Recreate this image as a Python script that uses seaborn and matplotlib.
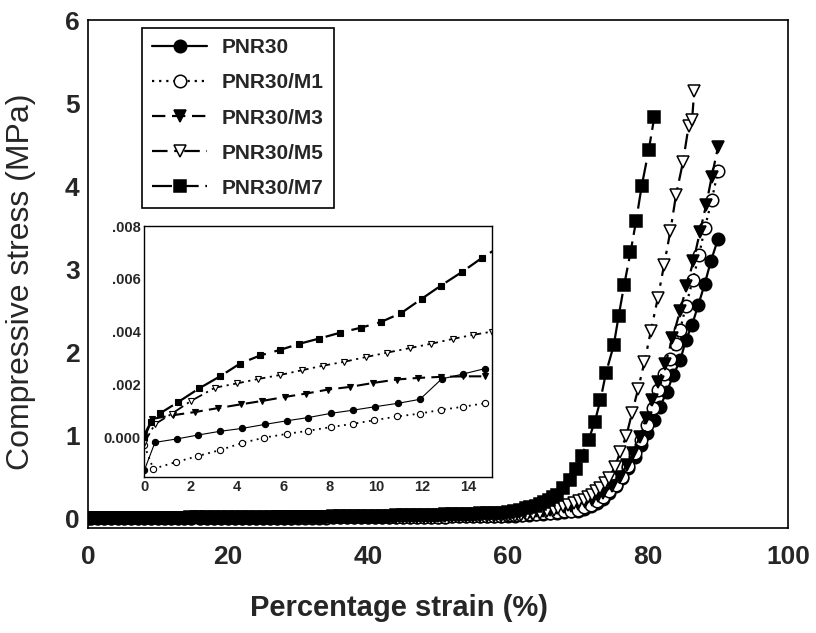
import numpy as np
import pandas as pd
import matplotlib
matplotlib.use("Agg")
import matplotlib.pyplot as plt
import seaborn as sns
from matplotlib.ticker import MultipleLocator

sns.set_style("white")
plt.rcParams['font.family'] = ['Liberation Sans', 'DejaVu Sans']

names = ["PNR30", "PNR30/M1", "PNR30/M3", "PNR30/M5", "PNR30/M7"]

# ---- low strain data (inset, 0-15 %) : strain (%), stress (MPa)
pnr30_in_x = [0, 0.46, 1.4, 2.33, 3.27, 4.23, 5.2, 6.17, 7.08, 8.06, 9.02, 9.96, 10.96, 11.9, 12.84, 13.77, 14.7]
pnr30_in_y = [-0.00125, -0.00019, -0.00006, 0.00009, 0.00023, 0.00034, 0.00049, 0.00063, 0.00075, 0.00091,
              0.00103, 0.00116, 0.00129, 0.00144, 0.00221, 0.0024, 0.0026]
m1_in_x = [0, 0.39, 1.35, 2.3, 3.27, 4.23, 5.18, 6.14, 7.08, 8.06, 8.99, 9.93, 10.92, 11.9, 12.8, 13.77, 14.7]
m1_in_y = [-0.0003, -0.00119, -0.00094, -0.00071, -0.00048, -0.00021, -0.00001, 0.00013, 0.00025, 0.00039,
           0.00051, 0.00065, 0.00079, 0.0009, 0.00104, 0.00116, 0.00129]
m3_in_x = [0, 0.35, 1.25, 2.2, 3.2, 4.17, 5.1, 6.07, 7.0, 7.94, 8.88, 9.88, 10.9, 11.83, 12.8, 13.77, 14.7]
m3_in_y = [0.0001, 0.0007, 0.00084, 0.00096, 0.00111, 0.00125, 0.00138, 0.00153, 0.00166, 0.00181,
           0.00191, 0.00206, 0.00219, 0.00225, 0.00229, 0.00231, 0.00231]
m5_in_x = [0, 0.46, 1.18, 2.0, 3.05, 3.99, 4.92, 5.86, 6.8, 7.7, 8.63, 9.57, 10.5, 11.47, 12.37, 13.34, 14.2, 15.0]
m5_in_y = [-0.0002, 0.0005, 0.00089, 0.00137, 0.00188, 0.00204, 0.00221, 0.00236, 0.00254, 0.00271,
           0.00286, 0.00304, 0.00321, 0.00338, 0.00354, 0.00373, 0.00388, 0.0040]
m7_in_x = [0, 0.3, 0.68, 1.47, 2.36, 3.27, 4.13, 5.0, 5.86, 6.69, 7.55, 8.45, 9.35, 10.2, 11.1, 11.97,
           12.8, 13.7, 14.56, 15.4]
m7_in_y = [0.0000, 0.0006, 0.00091, 0.00134, 0.00185, 0.00231, 0.00279, 0.0031, 0.00331, 0.00354, 0.00374,
           0.00396, 0.00415, 0.00436, 0.00471, 0.00524, 0.00574, 0.00625, 0.00678, 0.00725]

# ---- plateau region (16-60 %)
strain_mid = [16, 17, 18, 19, 20, 21, 22, 23, 24, 25, 26, 27, 28, 29, 30, 31, 32, 33, 34, 35, 36, 37, 38,
              39, 40, 41, 42, 43, 44, 45, 46, 47, 48, 49, 50, 51, 52, 53, 54, 55, 56, 57, 58, 59, 60]
pnr30_mid = [.0028, .003, .0032, .0035, .0037, .004, .0042, .0045, .0047, .005, .0053, .0056, .0059, .0062,
             .0065, .0068, .0072, .0075, .0079, .0083, .0087, .0091, .0095, .01, .0105, .011, .0115, .012,
             .0126, .0132, .0138, .0145, .0152, .016, .0168, .0177, .0186, .0196, .0206, .0217, .0229,
             .0242, .0256, .027, .0285]
m1_mid = [.0014, .0016, .0018, .002, .0022, .0024, .0026, .0028, .003, .0033, .0036, .0039, .0042, .0045,
          .0048, .0052, .0056, .006, .0064, .0068, .0073, .0078, .0083, .0088, .0094, .01, .0106, .0113,
          .012, .0128, .0136, .0145, .0154, .0164, .0174, .0185, .0196, .0208, .022, .0233, .0246, .026,
          .0275, .029, .032]
m3_mid = [.0024, .0026, .0028, .003, .0033, .0036, .0039, .0042, .0045, .0049, .0053, .0057, .0061, .0065,
          .007, .0075, .008, .0085, .009, .0096, .0102, .0108, .0115, .0122, .013, .0138, .0146, .0155,
          .0164, .0174, .0184, .0195, .0206, .0218, .023, .0243, .0257, .0271, .0286, .0302, .0319, .0337,
          .0356, .0376, .04]
m5_mid = [.0041, .0043, .0045, .0047, .0049, .0051, .0053, .0055, .0057, .006, .0063, .0066, .0069, .0072,
          .0075, .0078, .0082, .0086, .009, .0094, .0098, .0103, .0108, .0113, .0118, .0124, .013, .0136,
          .0143, .015, .0157, .0165, .0173, .0181, .019, .0199, .0208, .0218, .0228, .0238, .0248, .0258,
          .0268, .0278, .0288]
m7_mid = [.0073, .0077, .0081, .0085, .009, .0095, .01, .0105, .011, .0116, .0122, .0128, .0135, .0142,
          .015, .0158, .0166, .0175, .0184, .0194, .0204, .0215, .0226, .0238, .025, .0263, .0277, .0291,
          .0306, .0322, .0339, .0357, .0376, .0396, .0417, .0439, .0462, .0486, .0511, .0537, .0564, .0592,
          .0621, .0651, .068]

# ---- densification region
pnr30_hi_x = [61, 62, 63, 64, 65, 66, 67, 68, 69, 70.0, 70.9, 71.8, 72.7, 73.6, 74.5, 75.4, 76.3, 77.2, 78.1,
              79.0, 79.9, 80.8, 81.7, 82.7, 83.6, 84.6, 85.4, 86.3, 87.2, 88.1, 89.0, 90.0]
pnr30_hi_y = [0.03, 0.035, 0.04, 0.045, 0.05, 0.055, 0.062, 0.07, 0.08, 0.09, 0.11, 0.14, 0.18, 0.23, 0.3,
              0.38, 0.48, 0.6, 0.74, 0.88, 1.02, 1.18, 1.34, 1.52, 1.72, 1.9, 2.14, 2.33, 2.57, 2.82, 3.1, 3.36]
m1_hi_x = [61, 62, 63, 64, 65, 66, 67, 68, 69, 70.0, 70.9, 71.8, 72.7, 73.6, 74.5, 75.4, 76.3, 77.2, 78.1,
           79.0, 79.8, 80.7, 81.5, 82.3, 83.2, 84.0, 84.6, 85.4, 86.4, 87.3, 88.1, 89.1, 90.0]
m1_hi_y = [0.035, 0.04, 0.045, 0.05, 0.055, 0.06, 0.07, 0.08, 0.09, 0.10, 0.13, 0.16, 0.2, 0.25, 0.32, 0.4,
           0.5, 0.63, 0.78, 0.94, 1.12, 1.32, 1.54, 1.74, 1.92, 2.1, 2.27, 2.55, 2.87, 3.17, 3.49, 3.83, 4.18]
m3_hi_x = [61, 62, 63, 64, 65, 66, 67, 68, 69, 70, 71, 72, 72.8, 73.6, 74.8, 76.0, 77.0, 77.9, 78.8, 79.7,
           80.6, 81.5, 82.5, 83.5, 84.6, 85.5, 86.5, 87.4, 88.3, 89.1, 90.0]
m3_hi_y = [0.05, 0.06, 0.07, 0.08, 0.09, 0.10, 0.115, 0.13, 0.15, 0.17, 0.19, 0.22, 0.26, 0.30, 0.38, 0.5,
           0.64, 0.78, 0.98, 1.2, 1.42, 1.64, 1.86, 2.17, 2.5, 2.79, 3.1, 3.44, 3.77, 4.11, 4.47]
m5_hi_x = [61, 61.9, 62.7, 63.6, 64.6, 65.5, 66.5, 67.2, 67.9, 68.6, 69.4, 70.1, 70.8, 71.4, 72.0, 72.6,
           73.2, 73.8, 74.4, 75.3, 76.0, 76.9, 77.7, 78.6, 79.5, 80.4, 81.4, 82.3, 83.2, 84.0, 85.0, 85.8,
           86.3, 86.6]
m5_hi_y = [0.03, 0.033, 0.036, 0.05, 0.065, 0.08, 0.1, 0.12, 0.14, 0.16, 0.18, 0.2, 0.22, 0.25, 0.28, 0.32,
           0.36, 0.42, 0.48, 0.62, 0.79, 0.99, 1.26, 1.56, 1.88, 2.25, 2.65, 3.05, 3.46, 3.89, 4.29, 4.72,
           4.80, 5.14]
m7_hi_x = [60.8, 61.7, 62.5, 63.2, 64.0, 64.6, 65.2, 65.8, 66.4, 67.0, 67.9, 68.9, 69.7, 70.5, 71.5, 72.4,
           73.2, 74.0, 75.1, 75.8, 76.6, 77.5, 78.3, 79.1, 80.1, 80.9]
m7_hi_y = [0.085, 0.1, 0.115, 0.13, 0.15, 0.17, 0.195, 0.22, 0.25, 0.28, 0.36, 0.46, 0.59, 0.75, 0.94, 1.16,
           1.42, 1.75, 2.08, 2.43, 2.81, 3.2, 3.58, 4.0, 4.43, 4.83]

inset = {
    "PNR30": (pnr30_in_x, pnr30_in_y),
    "PNR30/M1": (m1_in_x, m1_in_y),
    "PNR30/M3": (m3_in_x, m3_in_y),
    "PNR30/M5": (m5_in_x, m5_in_y),
    "PNR30/M7": (m7_in_x, m7_in_y),
}
mid = {"PNR30": pnr30_mid, "PNR30/M1": m1_mid, "PNR30/M3": m3_mid, "PNR30/M5": m5_mid, "PNR30/M7": m7_mid}
high = {
    "PNR30": (pnr30_hi_x, pnr30_hi_y),
    "PNR30/M1": (m1_hi_x, m1_hi_y),
    "PNR30/M3": (m3_hi_x, m3_hi_y),
    "PNR30/M5": (m5_hi_x, m5_hi_y),
    "PNR30/M7": (m7_hi_x, m7_hi_y),
}

styles = {
    "PNR30":    dict(marker="o", mfc="black", ls="-", ils="-", ilw=0.8),
    "PNR30/M1": dict(marker="o", mfc="white", ls=(0, (1, 2.2)), ils=(0, (1, 2.5)), ilw=1.3),
    "PNR30/M3": dict(marker="v", mfc="black", ls=(0, (6, 3)), ils=(0, (6, 3)), ilw=1.5),
    "PNR30/M5": dict(marker="v", mfc="white", ls=(0, (7, 3, 1.5, 3)), ils=(0, (6, 2.5, 1.2, 2.5)), ilw=1.3),
    "PNR30/M7": dict(marker="s", mfc="black", ls=(0, (9, 3)), ils=(0, (8, 4)), ilw=1.6),
}

W, H = 816, 633
fig = plt.figure(figsize=(W / 100, H / 100), dpi=100)
ax = fig.add_axes([88 / W, 1 - 528 / H, 700 / W, 508 / H])

for n in names:
    xs = list(inset[n][0]) + strain_mid + list(high[n][0])
    ys = list(inset[n][1]) + mid[n] + list(high[n][1])
    st = styles[n]
    df = pd.DataFrame({"strain": xs, "stress": ys})
    sns.lineplot(data=df, x="strain", y="stress", ax=ax, sort=False, estimator=None, errorbar=None,
                 color="black", marker=st["marker"], markersize=9, markerfacecolor=st["mfc"],
                 markeredgecolor="black", markeredgewidth=1.1, linestyle=st["ls"], linewidth=1.6,
                 legend=False)

ax.set_xlim(0, 100)
ax.set_ylim(-0.12, 6)
ax.xaxis.set_major_locator(MultipleLocator(20))
ax.xaxis.set_minor_locator(MultipleLocator(10))
ax.yaxis.set_major_locator(MultipleLocator(1))
ax.yaxis.set_minor_locator(MultipleLocator(0.5))
ax.tick_params(which="both", direction="in", top=False, right=False, color="black")
ax.tick_params(which="major", length=7, width=1.1)
ax.tick_params(which="minor", length=4, width=1.0)
ax.tick_params(axis="x", pad=12)
ax.tick_params(axis="y", pad=6)
for sp in ax.spines.values():
    sp.set_color("black")
    sp.set_linewidth(1.2)
for lab in ax.get_xticklabels():
    lab.set_fontweight("bold")
    lab.set_fontsize(19)
for lab in ax.get_yticklabels():
    lab.set_fontweight("bold")
    lab.set_fontsize(19)
ax.set_xlabel("Percentage strain (%)", fontsize=21, fontweight="bold")
ax.xaxis.set_label_coords((399 - 88) / 700, (528 - 594) / 508)
ax.set_ylabel("Compressive stress (MPa)", fontsize=23)
ax.yaxis.set_label_coords((36 - 88) / 700, (528 - 282) / 508)

handles = ax.get_lines()[:5]
leg = ax.legend(handles, names, loc="upper left", bbox_to_anchor=((142 - 88) / 700, (528 - 28) / 508),
                borderaxespad=0, frameon=True, fancybox=False, edgecolor="black", framealpha=1,
                handlelength=2.6, handletextpad=0.7, labelspacing=0.77, borderpad=0.5,
                prop=dict(weight="bold", size=15))
leg.get_frame().set_linewidth(1.2)

# ---- inset
axi = fig.add_axes([144.3 / W, 1 - 477 / H, 347.4 / W, 251 / H])
axi.set_facecolor("white")
for n in names:
    st = styles[n]
    df = pd.DataFrame({"strain": inset[n][0], "stress": inset[n][1]})
    sns.lineplot(data=df, x="strain", y="stress", ax=axi, sort=False, estimator=None, errorbar=None,
                 color="black", marker=st["marker"], markersize=4.5, markerfacecolor=st["mfc"],
                 markeredgecolor="black", markeredgewidth=0.8, linestyle=st["ils"], linewidth=st["ilw"],
                 legend=False)
axi.set_xlim(0, 15)
axi.set_ylim(-0.0015, 0.0079)
axi.set_xticks([0, 2, 4, 6, 8, 10, 12, 14])
axi.set_xticklabels(["0", "2", "4", "6", "8", "10", "12", "14"])
axi.xaxis.set_minor_locator(MultipleLocator(1))
axi.set_yticks([0, 0.002, 0.004, 0.006, 0.008])
axi.set_yticklabels(["0.000", ".002", ".004", ".006", ".008"])
axi.yaxis.set_minor_locator(MultipleLocator(0.001))
axi.tick_params(which="both", direction="in", color="black")
axi.tick_params(which="major", length=4, width=0.9, labelsize=10.5, pad=2.5)
axi.tick_params(which="minor", length=2, width=0.8)
for lab in axi.get_xticklabels() + axi.get_yticklabels():
    lab.set_fontweight("bold")
axi.set_xlabel("")
axi.set_ylabel("")
for sp in axi.spines.values():
    sp.set_color("black")
    sp.set_linewidth(1.0)

fig.savefig("out.png", dpi=100, facecolor="white")
